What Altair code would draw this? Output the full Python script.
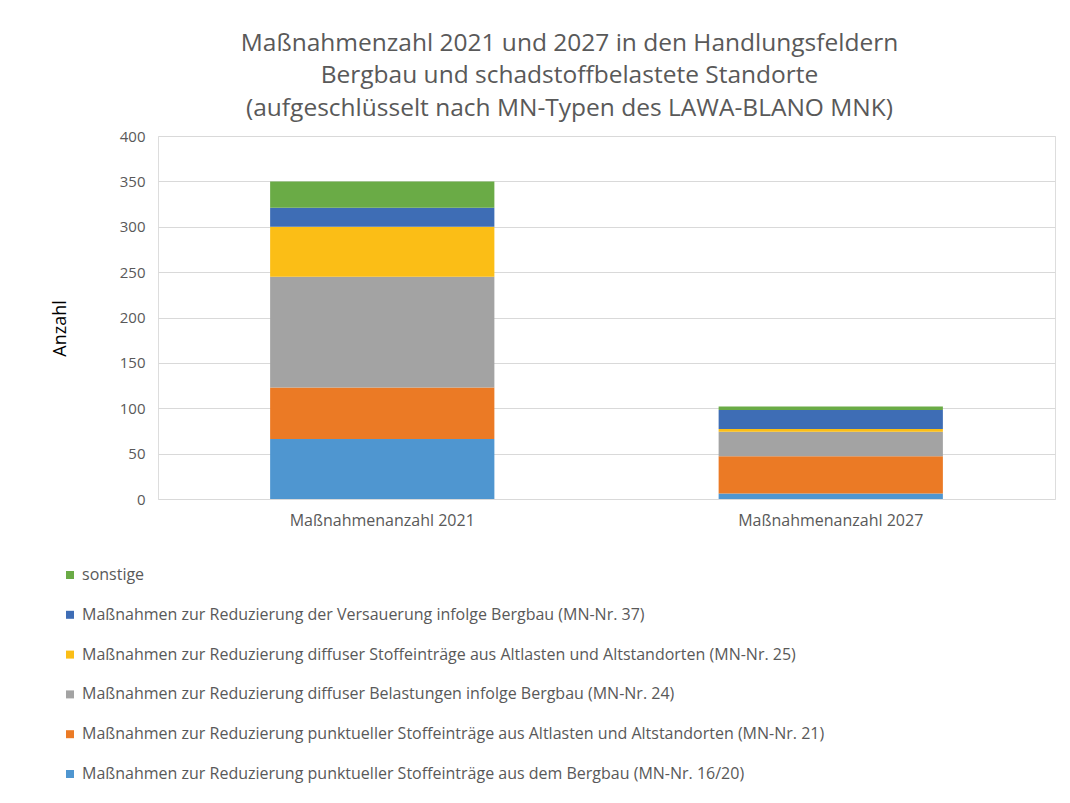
import altair as alt
import pandas as pd

categories = ["Maßnahmenanzahl 2021", "Maßnahmenanzahl 2027"]

# series listed from bottom of the stack to the top
series = [
    "Maßnahmen zur Reduzierung punktueller Stoffeinträge aus dem Bergbau (MN-Nr. 16/20)",
    "Maßnahmen zur Reduzierung punktueller Stoffeinträge aus Altlasten und Altstandorten (MN-Nr. 21)",
    "Maßnahmen zur Reduzierung diffuser Belastungen infolge Bergbau (MN-Nr. 24)",
    "Maßnahmen zur Reduzierung diffuser Stoffeinträge aus Altlasten und Altstandorten (MN-Nr. 25)",
    "Maßnahmen zur Reduzierung der Versauerung infolge Bergbau (MN-Nr. 37)",
    "sonstige",
]
colors = ["#4f96d0", "#eb7a25", "#a3a3a3", "#fbbe16", "#3e6db5", "#6aab46"]

values_2021 = [66, 57, 122, 55, 21, 29]
values_2027 = [6, 41, 27, 3, 21, 4]

rows = []
for i, s in enumerate(series):
    rows.append({"Kategorie": categories[0], "Serie": s, "Wert": values_2021[i], "idx": i})
    rows.append({"Kategorie": categories[1], "Serie": s, "Wert": values_2027[i], "idx": i})
df = pd.DataFrame(rows)

FONT = "Open Sans"
GREY = "#595959"

legend_domain = list(reversed(series))
legend_colors = list(reversed(colors))

chart = alt.Chart(df).mark_bar(strokeWidth=0).encode(
    x=alt.X(
        "Kategorie:N",
        sort=categories,
        scale=alt.Scale(paddingInner=0.5, paddingOuter=0.25),
        axis=alt.Axis(
            title=None, labelAngle=0, labelFontSize=16, labelColor=GREY,
            labelFont=FONT, labelPadding=13, labelLimit=400,
            ticks=False, domain=False, grid=False,
        ),
    ),
    y=alt.Y(
        "Wert:Q",
        stack="zero",
        scale=alt.Scale(domain=[0, 400], nice=False),
        axis=alt.Axis(
            title="Anzahl", values=[0, 50, 100, 150, 200, 250, 300, 350, 400],
            labelFontSize=15, labelColor=GREY, labelFont=FONT, labelPadding=13,
            ticks=False, domain=False, grid=True, gridColor="#d9d9d9", gridWidth=1,
            titleFontSize=18, titleFont=FONT, titleColor="#000000", titleFontWeight="normal",
            titleX=-98, titleY=192, titleAngle=-90, titleBaseline="middle", titleAlign="center",
        ),
    ),
    color=alt.Color(
        "Serie:N",
        scale=alt.Scale(domain=legend_domain, range=legend_colors),
        legend=alt.Legend(
            title=None, orient="none", legendX=-96, legendY=431, direction="vertical",
            symbolType="square", symbolSize=64, symbolStrokeWidth=0,
            labelFontSize=16, labelFont=FONT, labelColor=GREY, labelLimit=1000,
            labelOffset=4, rowPadding=23.8,
        ),
    ),
    order=alt.Order("idx:Q", sort="ascending"),
).properties(
    width=897,
    height=363,
    padding={"left": 150, "top": 128, "right": 7, "bottom": 296},
    autosize=alt.AutoSizeParams(type="none"),
    title=alt.TitleParams(
        text=[
            "Maßnahmenzahl 2021 und 2027 in den Handlungsfeldern",
            "Bergbau und schadstoffbelastete Standorte",
            "(aufgeschlüsselt nach MN-Typen des LAWA-BLANO MNK)",
        ],
        fontSize=24.5, font=FONT, color=GREY, fontWeight="normal",
        lineHeight=32.5, anchor="middle", frame="group", dx=-37, offset=8,
    ),
).configure_view(stroke=None).configure(background="white")

chart.save("out.html", embed_options={"renderer": "svg", "actions": False})
